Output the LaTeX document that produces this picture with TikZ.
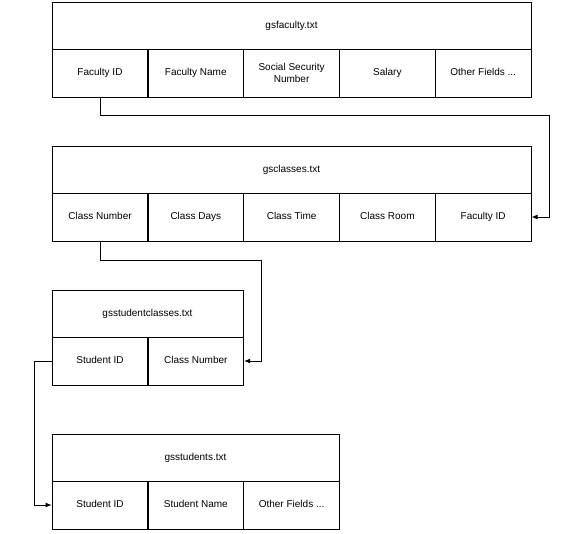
\documentclass[tikz,border=0pt]{standalone}
\usepackage{fontspec}
\setmainfont{Liberation Sans}
\usetikzlibrary{arrows.meta,positioning}
\tikzset{
    field/.style={
    rectangle,draw=black,minimum width=96pt,minimum height=48pt,inner sep=1pt,align=center,font=\fontsize{10}{12}\selectfont
    },
    header/.style={
    rectangle,draw=black,minimum height=47pt,inner sep=1pt,text height=7.5pt,text depth=2.5pt,font=\fontsize{10}{12}\selectfont
    },
    link/.style={
    draw=black,-{Latex[length=6pt,width=5pt]}
    },
}

\begin{document}
\begin{tikzpicture}[x=1pt, y=-1pt, node distance=95.8pt, on grid, line width=0.8pt]
   \useasboundingbox (0,0) rectangle (567,533);
   % gsfaculty.txt
   \node[header,minimum width=479pt] (F) at (291.5,25.5) {gsfaculty.txt};
   \node[field] (F1) at (100,73) {\strut Faculty ID};
   \node[field,right=of F1] (F2) {\strut Faculty Name};
   \node[field,right=of F2] (F3) {Social Security\\Number};
   \node[field,right=of F3] (F4) {\strut Salary};
   \node[field,right=of F4] (F5) {\strut Other Fields ...};
   % gsclasses.txt
   \node[header,minimum width=479pt] (C) at (291.5,169.5) {gsclasses.txt};
   \node[field] (C1) at (100,217) {\strut Class Number};
   \node[field,right=of C1] (C2) {\strut Class Days};
   \node[field,right=of C2] (C3) {\strut Class Time};
   \node[field,right=of C3] (C4) {\strut Class Room};
   \node[field,right=of C4] (C5) {\strut Faculty ID};
   % gsstudentclasses.txt
   \node[header,minimum width=191pt] (S) at (147.5,313.5) {gsstudentclasses.txt};
   \node[field] (S1) at (100,361) {\strut Student ID};
   \node[field,right=of S1] (S2) {\strut Class Number};
   % gsstudents.txt
   \node[header,minimum width=287pt] (T) at (195.5,457.5) {gsstudents.txt};
   \node[field] (T1) at (100,505) {\strut Student ID};
   \node[field,right=of T1] (T2) {\strut Student Name};
   \node[field,right=of T2] (T3) {\strut Other Fields ...};

   \coordinate (r1) at (549,115);
   \coordinate (r2) at (261,260);
   \coordinate (r3) at (34,361);

   \draw[link] (F1.south) |- (r1) |- (C5.east);
   \draw[link] (C1.south) |- (r2) |- (S2.east);
   \draw[link] (S1.west) -- (r3) |- (T1.west);
\end{tikzpicture}
\end{document}
